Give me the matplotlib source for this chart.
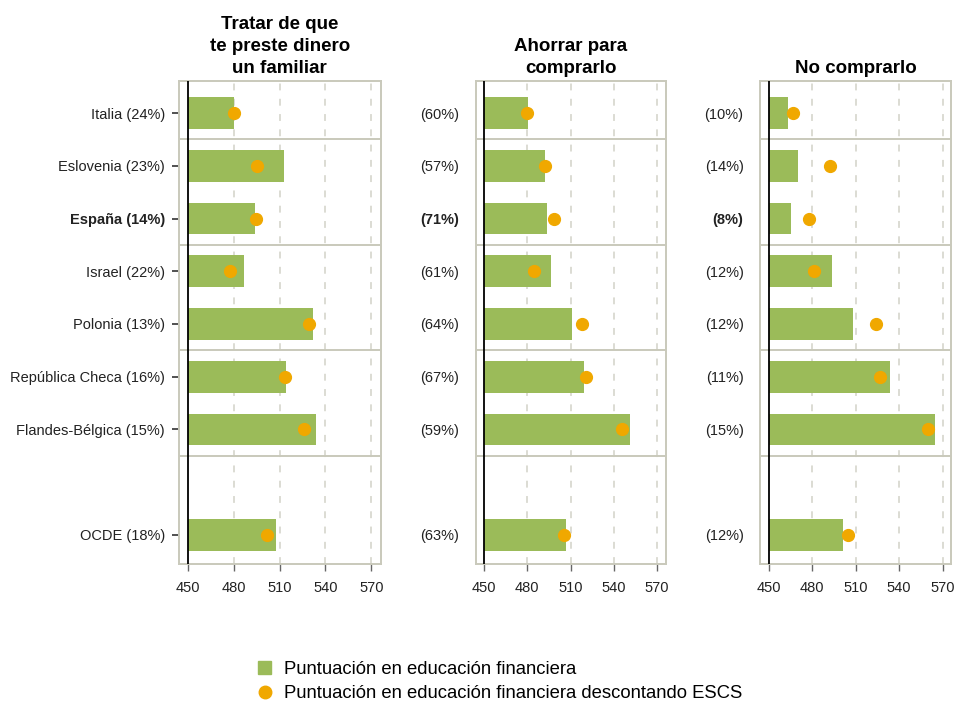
import numpy as np
import matplotlib.pyplot as plt
from matplotlib.lines import Line2D
from matplotlib.patches import Patch

plt.rcParams['font.family'] = ['Liberation Sans', 'DejaVu Sans']

paises = ['Italia', 'Eslovenia', 'España', 'Israel', 'Polonia',
          'República Checa', 'Flandes-Bélgica', 'OCDE']
titulos = ['Tratar de que\nte preste dinero\nun familiar', 'Ahorrar para\ncomprarlo', 'No comprarlo']

# porcentaje de alumnos en cada opción
pct_familiar = [24, 23, 14, 22, 13, 16, 15, 18]
pct_ahorrar = [60, 57, 71, 61, 64, 67, 59, 63]
pct_no_comprar = [10, 14, 8, 12, 12, 11, 15, 12]

# puntuación en educación financiera
punt_familiar = [480, 513, 494, 487, 532, 514, 534, 507.5]
punt_ahorrar = [480.5, 492, 494, 496.5, 511, 519, 551.5, 507]
punt_no_comprar = [463.5, 470, 465.5, 494, 508.5, 534, 564.5, 501]

# puntuación descontando ESCS
escs_familiar = [480, 495.5, 494.5, 477.5, 529.5, 513.5, 526, 502]
escs_ahorrar = [480, 492, 498.5, 484.5, 518, 520.5, 546, 505.5]
escs_no_comprar = [467, 492.5, 477.5, 481.5, 524, 527, 560, 504.5]

ticks_x = [450, 480, 510, 540, 570]

verde = '#9bbb59'
naranja = '#f0a800'
marco = '#c9c9bb'

posiciones = [0, 1, 2, 3, 4, 5, 6, 8]
separadores = [0.5, 2.5, 4.5, 6.5]

fig = plt.figure(figsize=(9.55, 7.05), dpi=100)
cajas = [[0.1871, 0.2, 0.2115, 0.6846],
         [0.4981, 0.2, 0.1990, 0.6846],
         [0.7961, 0.2, 0.2000, 0.6846]]

datos = [(pct_familiar, punt_familiar, escs_familiar),
         (pct_ahorrar, punt_ahorrar, escs_ahorrar),
         (pct_no_comprar, punt_no_comprar, escs_no_comprar)]

for k in range(3):
    ax = fig.add_axes(cajas[k])
    pct, punt, escs = datos[k]
    for xg in ticks_x[1:]:
        ax.axvline(xg, color='#d2d2c8', lw=1.1, ls=(0, (4.5, 5.5)), zorder=0)
    for s in separadores:
        ax.axhline(s, color=marco, lw=1.4, zorder=1)
    ax.barh(posiciones, np.array(punt) - 450, left=450, height=0.6, color=verde, zorder=2)
    ax.plot(escs, posiciones, 'o', color=naranja, ms=8.5, mec=naranja, zorder=3)
    ax.axvline(450, color='black', lw=1.3, zorder=4)
    ax.set_xlim(444.2, 576)
    ax.set_ylim(8.55, -0.6)
    ax.set_xticks(ticks_x)
    ax.tick_params(axis='x', colors='#666666', labelcolor='#222222', labelsize=10.5,
                   length=5, width=1, pad=7)
    for sp in ax.spines.values():
        sp.set_color(marco)
        sp.set_linewidth(1.4)
    ax.set_yticks(posiciones)
    if k == 0:
        etiquetas = [f'{p} ({v}%)' for p, v in zip(paises, pct)]
        ax.tick_params(axis='y', colors='#333333', labelcolor='#222222', labelsize=10.5,
                       length=5, width=1.2, pad=5)
    else:
        etiquetas = [f'({v}%)' for v in pct]
        ax.tick_params(axis='y', labelcolor='#222222', labelsize=10.5, length=0, pad=12)
    ax.set_yticklabels(etiquetas)
    for lab in ax.get_yticklabels():
        if 'España' in lab.get_text() or lab.get_text() == f'({pct[2]}%)':
            lab.set_fontweight('bold')
    ax.set_title(titulos[k], fontsize=13.5, fontweight='bold', pad=6, linespacing=1.38)

handles = [Patch(color=verde),
           Line2D([], [], marker='o', color=naranja, ls='none', ms=9)]
fig.legend(handles, ['Puntuación en educación financiera',
                     'Puntuación en educación financiera descontando ESCS'],
           loc='lower left', bbox_to_anchor=(0.253, -0.02), frameon=False,
           fontsize=13.3, handlelength=0.7, handletextpad=0.7, labelspacing=0.42)

fig.savefig('out.png', dpi=100)
